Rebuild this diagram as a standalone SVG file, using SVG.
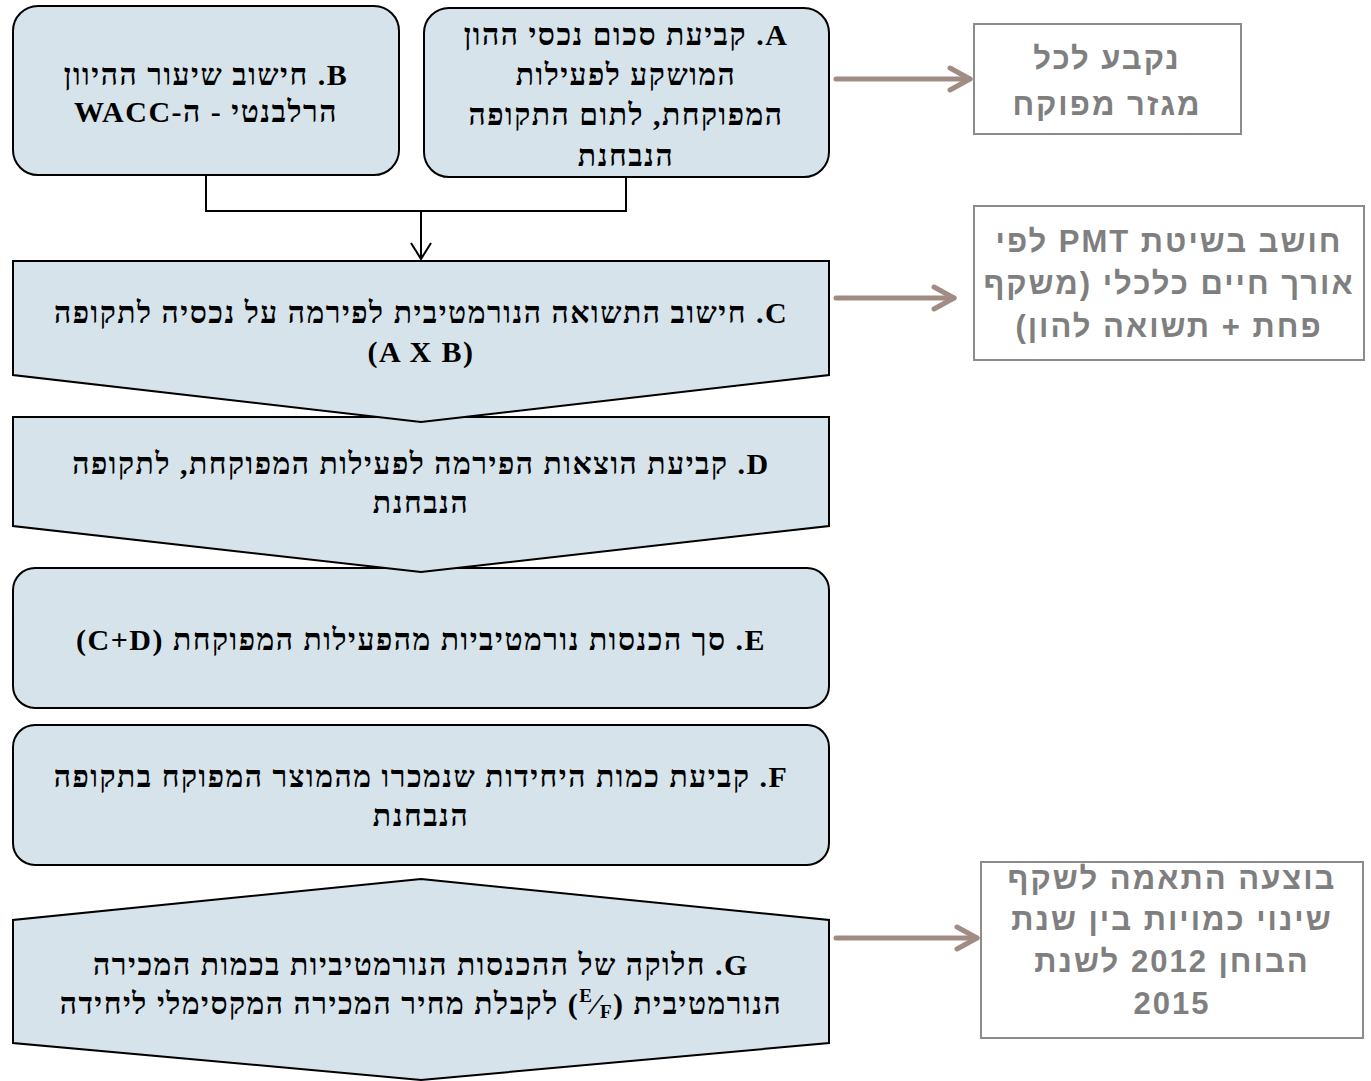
<svg xmlns="http://www.w3.org/2000/svg" width="1371" height="1081" viewBox="0 0 1371 1081">
<style>
.shape{fill:#d6e3ea;stroke:#000;stroke-width:2}
.t{font-family:"Liberation Serif","Times New Roman",serif;font-size:30px;letter-spacing:1.5px;font-weight:bold;fill:#000;text-anchor:middle;dominant-baseline:central;direction:rtl;unicode-bidi:embed}
.rbox{fill:#fff;stroke:#8c8c8c;stroke-width:2}
.rt{font-family:"Liberation Sans",Arial,sans-serif;font-size:31px;letter-spacing:2px;font-weight:bold;fill:#7f7f7f;text-anchor:middle;dominant-baseline:central;direction:rtl;unicode-bidi:embed}
.conn{fill:none;stroke:#000;stroke-width:2}
.barrow{fill:none;stroke:#a08c84;stroke-width:5;stroke-linecap:round;stroke-linejoin:round}
</style>
<defs>
<marker id="chev" markerUnits="userSpaceOnUse" markerWidth="30" markerHeight="30" viewBox="-26 -15 30 30" refX="0" refY="0" orient="auto">
<path d="M-20,-11 L0,0 L-20,11" fill="none" stroke="#a08c84" stroke-width="5" stroke-linecap="round" stroke-linejoin="round"/>
</marker>
</defs>

<g id="node-G">
<polygon class="shape" points="421,879 829,920 829,1043 421,1080 13,1043 13,920"/>
<text class="t" x="421" y="964">G. חלוקה של ההכנסות הנורמטיביות בכמות המכירה</text>
<text class="t" x="421" y="1003">הנורמטיבית (<tspan font-size="19" baseline-shift="8">E</tspan>⁄<tspan font-size="19" baseline-shift="-8">F</tspan>) לקבלת מחיר המכירה המקסימלי ליחידה</text>
</g>
<g id="node-F">
<rect class="shape" x="13" y="725" width="816" height="140" rx="22"/>
<text class="t" x="421" y="776">F. קביעת כמות היחידות שנמכרו מהמוצר המפוקח בתקופה</text>
<text class="t" x="421" y="815">הנבחנת</text>
</g>
<g id="node-E">
<rect class="shape" x="13" y="568" width="816" height="140" rx="22"/>
<text class="t" x="421" y="639">E. סך הכנסות נורמטיביות מהפעילות המפוקחת (C+D)</text>
</g>
<g id="node-D">
<polygon class="shape" points="13,417 829,417 829,526 421,572 13,526"/>
<text class="t" x="421" y="463">D. קביעת הוצאות הפירמה לפעילות המפוקחת, לתקופה</text>
<text class="t" x="421" y="502">הנבחנת</text>
</g>
<g id="node-C">
<polygon class="shape" points="13,261 829,261 829,375 421,422 13,375"/>
<text class="t" x="421" y="312">C. חישוב התשואה הנורמטיבית לפירמה על נכסיה לתקופה</text>
<text class="t" x="421" y="351" style="direction:ltr">(A X B)</text>
</g>
<g id="node-B">
<rect class="shape" x="13" y="6" width="386" height="169" rx="25"/>
<text class="t" x="206" y="74">B. חישוב שיעור ההיוון</text>
<text class="t" x="206" y="111">הרלבנטי - ה-WACC</text>
</g>
<g id="node-A">
<rect class="shape" x="424" y="8" width="405" height="169" rx="25"/>
<text class="t" x="626" y="34">A. קביעת סכום נכסי ההון</text>
<text class="t" x="626" y="74">המושקע לפעילות</text>
<text class="t" x="626" y="114">המפוקחת, לתום התקופה</text>
<text class="t" x="626" y="155">הנבחנת</text>
</g>

<g id="note-1">
<rect class="rbox" x="974" y="24" width="267" height="110"/>
<text class="rt" x="1107" y="58">נקבע לכל</text>
<text class="rt" x="1107" y="104">מגזר מפוקח</text>
</g>
<g id="note-2">
<rect class="rbox" x="974" y="206" width="390" height="154"/>
<text class="rt" x="1169" y="241">חושב בשיטת PMT לפי</text>
<text class="rt" x="1169" y="283">אורך חיים כלכלי (משקף</text>
<text class="rt" x="1169" y="326">פחת + תשואה להון)</text>
</g>
<g id="note-3">
<rect class="rbox" x="981" y="862" width="382" height="176"/>
<text class="rt" x="1172" y="878">בוצעה התאמה לשקף</text>
<text class="rt" x="1172" y="919">שינוי כמויות בין שנת</text>
<text class="rt" x="1172" y="961">הבוחן 2012 לשנת</text>
<text class="rt" x="1172" y="1003">2015</text>
</g>

<g id="connectors">
<polyline class="conn" points="206,175 206,211 626,211 626,177"/>
<line class="conn" x1="421" y1="211" x2="421" y2="259"/>
<polyline class="conn" points="411,243 421,259 431,243"/>
<line class="barrow" x1="836" y1="79" x2="970" y2="79" marker-end="url(#chev)"/>
<line class="barrow" x1="836" y1="298" x2="954" y2="298" marker-end="url(#chev)"/>
<line class="barrow" x1="836" y1="938" x2="977" y2="938" marker-end="url(#chev)"/>
</g>
</svg>
